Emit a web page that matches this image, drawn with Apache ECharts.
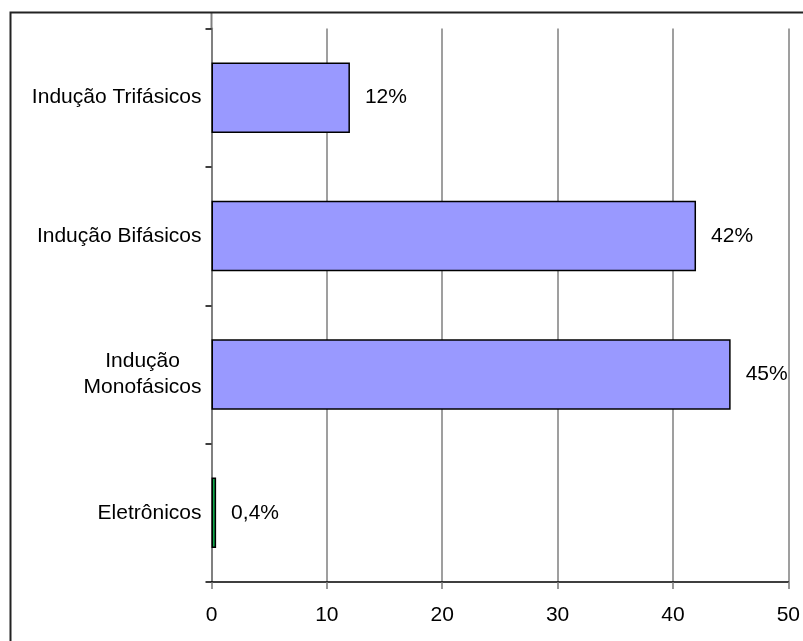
<!DOCTYPE html>
<html>
<head>
<meta charset="utf-8">
<script src="https://cdn.jsdelivr.net/npm/echarts@6/dist/echarts.min.js"></script>
<style>html,body{margin:0;padding:0;background:#fff}#c{width:803px;height:641px}</style>
</head>
<body>
<div id="c"></div>
<script>
var categories = ['Eletrônicos', 'Indução\nMonofásicos', 'Indução Bifásicos', 'Indução Trifásicos'];
var values = [0.4, 45, 42, 12];
var valueLabels = ['0,4%', '45%', '42%', '12%'];
var barColors = ['#0FA84C', '#9999FF', '#9999FF', '#9999FF'];
var xTicks = { min: 0, max: 50, interval: 10 };

var chart = echarts.init(document.getElementById('c'), null, { renderer: 'canvas' });
var FONT = '"Liberation Sans", Arial, sans-serif';
chart.setOption({
  animation: false,
  backgroundColor: '#fff',
  textStyle: { fontFamily: FONT },
  grid: { left: 211.5, right: 13.5, top: 28.5, bottom: 59, containLabel: false },
  xAxis: {
    type: 'value',
    min: xTicks.min, max: xTicks.max, interval: xTicks.interval,
    axisLine: { show: true, lineStyle: { color: '#000', width: 1.5 } },
    axisTick: { show: true, length: 7, lineStyle: { color: '#777', width: 1.5 } },
    axisLabel: { color: '#000', fontSize: 21, fontFamily: FONT, margin: 23 },
    splitLine: { show: true, lineStyle: { color: '#7f7f7f', width: 1.5 } }
  },
  yAxis: {
    type: 'category',
    data: categories,
    axisLine: { show: true, lineStyle: { color: '#808080', width: 2 } },
    axisTick: { show: true, length: 6, lineStyle: { color: '#000', width: 1.5 } },
    axisLabel: {
      color: '#000', fontSize: 21, fontFamily: FONT, margin: 10,
      formatter: function (v) {
        return v.split('\n').map(function (s) { return '{a|' + s + '}'; }).join('\n');
      },
      rich: { a: { fontSize: 21, fontFamily: FONT, color: '#000', align: 'center', lineHeight: 26 } }
    },
    splitLine: { show: false }
  },
  series: [{
    type: 'bar',
    barWidth: '51%',
    data: values.map(function (v, i) {
      return { value: v, itemStyle: { color: barColors[i] } };
    }),
    itemStyle: { borderColor: '#000', borderWidth: 1.5 },
    label: {
      show: true, position: 'right', distance: 15,
      color: '#000', fontSize: 21, fontFamily: FONT,
      formatter: function (p) { return valueLabels[p.dataIndex]; }
    }
  }],
  graphic: [
    { type: 'rect', shape: { x: 10.5, y: 12.5, width: 820, height: 660 }, style: { fill: 'none', stroke: '#222', lineWidth: 2 }, silent: true, z: 100 },
    { type: 'line', shape: { x1: 211.5, y1: 12.5, x2: 211.5, y2: 29 }, style: { stroke: '#808080', lineWidth: 2 }, silent: true }
  ]
});
</script>
</body>
</html>
